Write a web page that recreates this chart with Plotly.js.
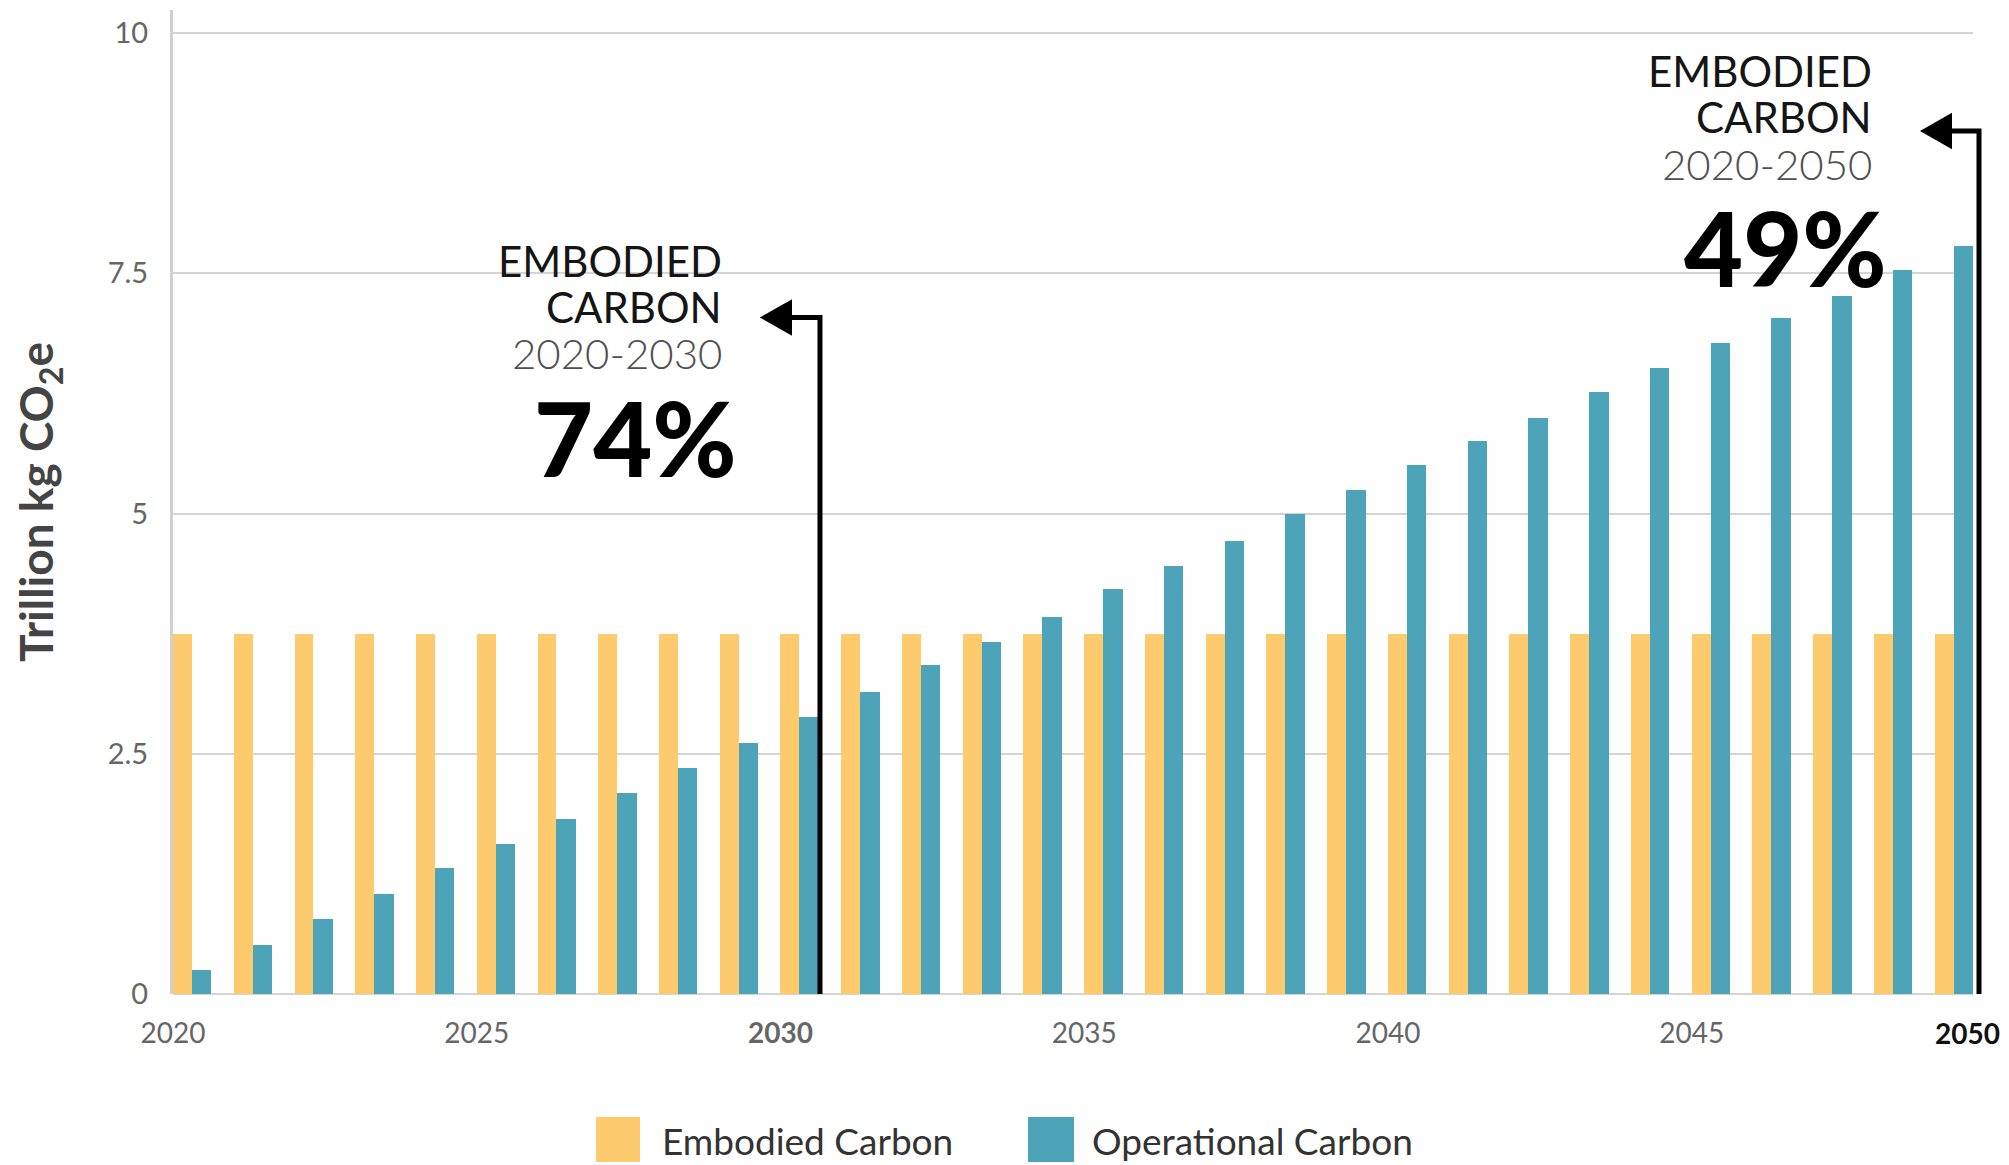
<!DOCTYPE html>
<html>
<head>
<meta charset="utf-8">
<script src="https://cdn.plot.ly/plotly-3.0.1.min.js"></script>
<style>
  html, body { margin: 0; padding: 0; background: #ffffff; }
  #chart { width: 2009px; height: 1165px; }
</style>
</head>
<body>
<div id="chart"></div>
<script>
// ---- data ----
const years = [2020, 2021, 2022, 2023, 2024, 2025, 2026, 2027, 2028, 2029,
               2030, 2031, 2032, 2033, 2034, 2035, 2036, 2037, 2038, 2039,
               2040, 2041, 2042, 2043, 2044, 2045, 2046, 2047, 2048, 2049];
const embodied = [3.75, 3.75, 3.75, 3.75, 3.75, 3.75, 3.75, 3.75, 3.75, 3.75,
                  3.75, 3.75, 3.75, 3.75, 3.75, 3.75, 3.75, 3.75, 3.75, 3.75,
                  3.75, 3.75, 3.75, 3.75, 3.75, 3.75, 3.75, 3.75, 3.75, 3.75];
const operational = [0.25, 0.51, 0.78, 1.04, 1.31, 1.56, 1.82, 2.09, 2.35, 2.61,
                     2.88, 3.14, 3.42, 3.66, 3.92, 4.21, 4.45, 4.71, 5.00, 5.24,
                     5.50, 5.75, 5.99, 6.26, 6.51, 6.77, 7.03, 7.26, 7.53, 7.78];
const seriesNames = ["Embodied Carbon", "Operational Carbon"];
const xTickVals = [2020, 2025, 2030, 2035, 2040, 2045];
const xTickText = ["2020", "2025", "<b>2030</b>", "2035", "2040", "2045"];
const yTickVals = [0, 2.5, 5, 7.5, 10];
const yTickText = ["0", "2.5", "5", "7.5", "10"];
const callout1 = {head1: "EMBODIED", head2: "CARBON", period: "2020-2030", share: "74%"};
const callout2 = {head1: "EMBODIED", head2: "CARBON", period: "2020-2050", share: "49%"};
const lastTickLabel = "2050";

// ---- styles ----
const YELLOW = "#FDCB6E";
const TEAL = "#4DA3B7";
const FONT = "Lato, 'Open Sans', sans-serif";

const traces = [
  {
    type: "bar", name: seriesNames[0], x: years, y: embodied,
    marker: {color: YELLOW}, offset: 0, width: 0.31, showlegend: false,
    hovertemplate: "%{x}: %{y}<extra>" + seriesNames[0] + "</extra>"
  },
  {
    type: "bar", name: seriesNames[1], x: years, y: operational,
    marker: {color: TEAL}, offset: 0.31, width: 0.32, showlegend: false,
    hovertemplate: "%{x}: %{y}<extra>" + seriesNames[1] + "</extra>"
  }
];

// pixel helpers for decorations (plot area: x 173..1973, y 10..994)
const L = 173, R = 1973, T = 10, B = 994;
const px = X => (X - L) / (R - L);
const py = Y => (B - Y) / (B - T);

const textDark = "#151515";
const textGrey = "#505050";

function callout(c, right, yHead1, yHead2, yPeriod, yShare, rightShare) {
  return [
    {xref: "paper", yref: "paper", x: px(right), y: py(yHead1), xanchor: "right", yanchor: "middle",
     text: c.head1, showarrow: false, font: {family: FONT, size: 42, color: textDark}},
    {xref: "paper", yref: "paper", x: px(right), y: py(yHead2), xanchor: "right", yanchor: "middle",
     text: c.head2, showarrow: false, font: {family: FONT, size: 42, color: textDark}},
    {xref: "paper", yref: "paper", x: px(right), y: py(yPeriod), xanchor: "right", yanchor: "middle",
     text: c.period, showarrow: false, font: {family: FONT, size: 42, color: textGrey, weight: 300}},
    {xref: "paper", yref: "paper", x: px(rightShare), y: py(yShare), xanchor: "right", yanchor: "middle",
     text: c.share, showarrow: false, font: {family: FONT, size: 102, color: "#000000", weight: 900}}
  ];
}

const annotations = [].concat(
  callout(callout1, 724, 261, 307, 353, 437, 739),
  callout(callout2, 1874, 71, 117, 164, 247, 1889),
  [
    {xref: "paper", yref: "paper", x: px(1967), y: py(1033), xanchor: "center", yanchor: "middle",
     text: "<b>" + lastTickLabel + "</b>", showarrow: false, font: {family: FONT, size: 28, color: "#111111"}},
    {xref: "paper", yref: "paper", x: px(660), y: py(1140), xanchor: "left", yanchor: "middle",
     text: seriesNames[0], showarrow: false, font: {family: FONT, size: 37, color: "#333333"}},
    {xref: "paper", yref: "paper", x: px(1090), y: py(1140), xanchor: "left", yanchor: "middle",
     text: seriesNames[1], showarrow: false, font: {family: FONT, size: 37, color: "#333333"}}
  ]
);

const arrowW = 5;
const shapes = [
  // 2030 callout arrow
  {type: "path", xref: "x", yref: "y", line: {color: "#000", width: arrowW},
   path: "M 2030.65 0 L 2030.65 7.04 L 2030.1 7.04"},
  {type: "path", xref: "x", yref: "y", line: {color: "#000", width: 0}, fillcolor: "#000",
   path: "M 2029.66 7.04 L 2030.19 7.23 L 2030.19 6.85 Z"},
  // 2050 callout arrow
  {type: "path", xref: "paper", yref: "y", line: {color: "#000", width: arrowW},
   path: "M " + px(1979) + " 0 L " + px(1979) + " 8.98 L " + px(1940) + " 8.98"},
  {type: "path", xref: "paper", yref: "y", line: {color: "#000", width: 0}, fillcolor: "#000",
   path: "M " + px(1920) + " 8.98 L " + px(1952) + " 9.17 L " + px(1952) + " 8.79 Z"},
  // custom legend swatches
  {type: "rect", xref: "paper", yref: "paper", x0: px(596), x1: px(640), y0: py(1117), y1: py(1162),
   line: {width: 0}, fillcolor: YELLOW},
  {type: "rect", xref: "paper", yref: "paper", x0: px(1028), x1: px(1074), y0: py(1117), y1: py(1162),
   line: {width: 0}, fillcolor: TEAL}
];

const layout = {
  width: 2009, height: 1165,
  margin: {l: L, r: 2009 - R, t: T, b: 1165 - B},
  paper_bgcolor: "#ffffff", plot_bgcolor: "#ffffff",
  showlegend: false,
  font: {family: FONT},
  bargap: 0,
  xaxis: {
    type: "linear", range: [2020, 2049.63],
    tickvals: xTickVals, ticktext: xTickText,
    tickfont: {family: FONT, size: 28, color: "#666666"},
    showgrid: false, zeroline: false, showline: false, ticks: "",
    ticklabelstandoff: 20, fixedrange: true
  },
  yaxis: {
    range: [0, 10.24],
    tickvals: yTickVals, ticktext: yTickText,
    tickfont: {family: FONT, size: 29, color: "#666666"},
    showgrid: true, gridcolor: "#d4d4d4", gridwidth: 2,
    zeroline: true, zerolinecolor: "#d4d4d4", zerolinewidth: 2,
    showline: true, linecolor: "#d0d0d0", linewidth: 3,
    ticks: "", ticklabelstandoff: 16,
    title: {text: "Trillion kg CO<sub>2</sub>e", standoff: 40,
            font: {family: FONT, size: 46, color: "#444444", weight: 700}},
    fixedrange: true
  },
  shapes: shapes,
  annotations: annotations
};

Plotly.newPlot("chart", traces, layout, {displayModeBar: false, staticPlot: true});
</script>
</body>
</html>
